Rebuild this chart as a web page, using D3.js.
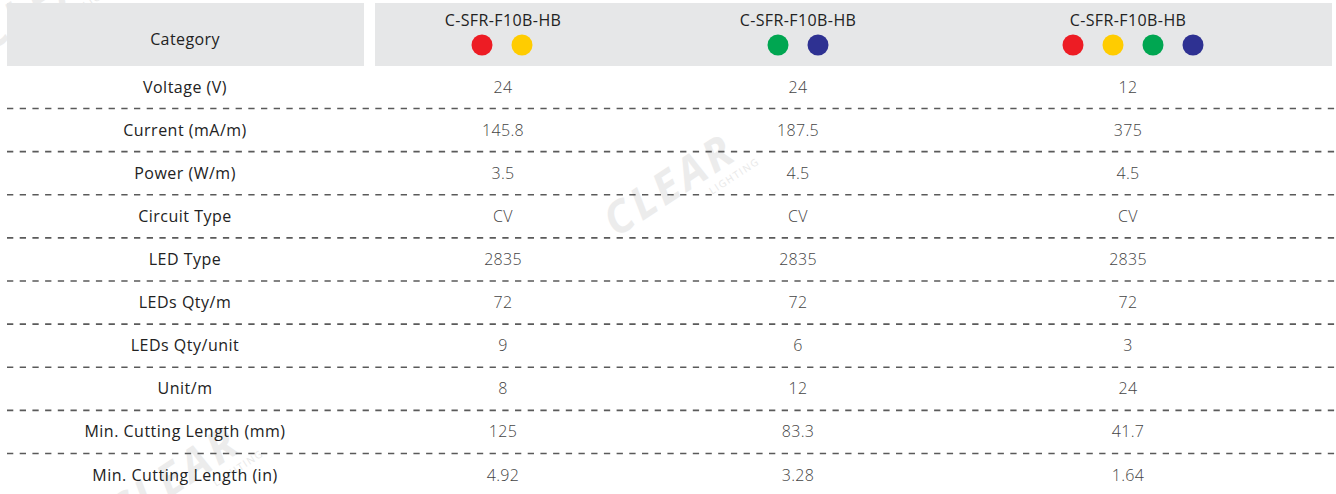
<!DOCTYPE html>
<html>
<head>
<meta charset="utf-8">
<script src="https://cdn.jsdelivr.net/npm/d3@7"></script>
<style>
  body { margin: 0; background: #fff; }
  text { font-family: "Open Sans", sans-serif; }
  .cat { fill: #222; font-size: 16px; letter-spacing: 0.5px; }
  .val { fill: #444; font-size: 16px; font-weight: 300; letter-spacing: 0.3px; }
  .head { fill: #222; font-size: 16px; letter-spacing: 0.4px; }
</style>
</head>
<body>
<div id="chart"></div>
<script>
var categories = ["Voltage (V)", "Current (mA/m)", "Power (W/m)", "Circuit Type", "LED Type",
                  "LEDs Qty/m", "LEDs Qty/unit", "Unit/m", "Min. Cutting Length (mm)", "Min. Cutting Length (in)"]
var products = ["C-SFR-F10B-HB", "C-SFR-F10B-HB", "C-SFR-F10B-HB"]
var productDots = [["red", "yellow"], ["green", "blue"], ["red", "yellow", "green", "blue"]]
var valuesRY   = ["24", "145.8", "3.5", "CV", "2835", "72", "9", "8", "125", "4.92"]
var valuesGB   = ["24", "187.5", "4.5", "CV", "2835", "72", "6", "12", "83.3", "3.28"]
var valuesRYGB = ["12", "375", "4.5", "CV", "2835", "72", "3", "24", "41.7", "1.64"]
var columns = [valuesRY, valuesGB, valuesRYGB]

var dotColor = {red: "#ed1c24", yellow: "#ffcc00", green: "#00a651", blue: "#2e3192"}

var width = 1336, height = 494

var svg = d3.select("#chart").append("svg")
  .attr("width", width)
  .attr("height", height)

// watermark
function mark(x, y) {
  var g = svg.append("g").attr("transform", "translate(" + x + "," + y + ") rotate(-33)")
  g.append("text").attr("x", 0).attr("y", 0)
    .style("font-size", "44px").style("font-weight", 700).style("font-style", "italic")
    .style("letter-spacing", "4px").attr("fill", "#ececec").text("CLEAR")
  g.append("text").attr("x", 104).attr("y", 16)
    .style("font-size", "10px").style("letter-spacing", "1.5px").attr("fill", "#e8e8e8").text("LIGHTING")
}
mark(616, 238)
mark(-10, 52)
mark(120, 530)

// header boxes
svg.append("rect").attr("x", 7).attr("y", 3).attr("width", 357).attr("height", 63).attr("fill", "#e6e7e8")
svg.append("rect").attr("x", 375).attr("y", 3).attr("width", 957).attr("height", 63).attr("fill", "#e6e7e8")

var y = d3.scaleLinear().domain([0, categories.length - 1]).range([87, 475])
var rowH = y(1) - y(0)
var x = d3.scaleOrdinal().domain([0, 1, 2]).range([503, 798, 1128])
var dotX = d3.scaleOrdinal().domain([0, 1, 2]).range([502, 798, 1133])

svg.append("text").attr("class", "head")
  .attr("x", 185).attr("y", 39).attr("dy", "0.35em")
  .attr("text-anchor", "middle").text("Category")

products.forEach(function(p, i) {
  svg.append("text").attr("class", "head")
    .attr("x", x(i)).attr("y", 20).attr("dy", "0.35em")
    .attr("text-anchor", "middle").text(p)
  var n = productDots[i].length
  svg.selectAll(null).data(productDots[i]).enter().append("circle")
    .attr("cx", (d, j) => dotX(i) + (j - (n - 1) / 2) * 40)
    .attr("cy", 45)
    .attr("r", 10.5)
    .attr("fill", d => dotColor[d])
})

// separators
svg.selectAll(".sep").data(categories.slice(0, -1)).enter().append("line")
  .attr("class", "sep")
  .attr("x1", 7).attr("x2", width)
  .attr("y1", (d, i) => y(i) + rowH / 2)
  .attr("y2", (d, i) => y(i) + rowH / 2)
  .attr("stroke", "#5a5a5a")
  .attr("stroke-width", 1.6)
  .attr("stroke-dasharray", "6.3,6.4")

svg.selectAll(".cat").data(categories).enter().append("text")
  .attr("class", "cat")
  .attr("x", 185).attr("y", (d, i) => y(i)).attr("dy", "0.35em")
  .attr("text-anchor", "middle").text(d => d)

columns.forEach(function(col, c) {
  svg.selectAll(null).data(col).enter().append("text")
    .attr("class", "val")
    .attr("x", x(c)).attr("y", (d, i) => y(i)).attr("dy", "0.35em")
    .attr("text-anchor", "middle").text(d => d)
})
</script>
</body>
</html>
